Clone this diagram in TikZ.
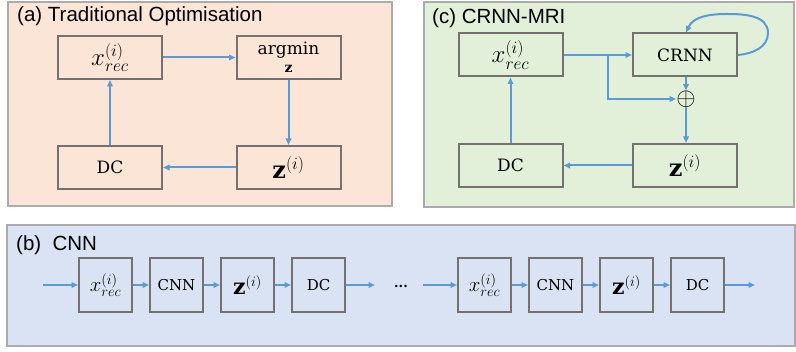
\documentclass[tikz,border=0pt]{standalone}
\usepackage{fontspec}
\setmainfont{DejaVu Serif}
\setsansfont{Liberation Sans}
\usetikzlibrary{arrows.meta}
\definecolor{peach}{HTML}{FBE5D6}
\definecolor{mint}{HTML}{E2F0D9}
\definecolor{lblue}{HTML}{DAE3F3}
\definecolor{pborder}{HTML}{ABABAB}
\definecolor{bborder}{HTML}{767171}
\definecolor{arrblue}{HTML}{5B9BD5}
\begin{document}
\begin{tikzpicture}[x=1pt,y=-1pt,
  panel/.style={draw=pborder,line width=2pt},
  blk/.style={draw=bborder,line width=2pt,minimum width=104pt,minimum height=43pt,inner sep=0pt,font=\fontsize{17}{19}\selectfont},
  sblk/.style={draw=bborder,line width=2pt,minimum width=53pt,minimum height=54pt,inner sep=0pt,font=\fontsize{15}{17}\selectfont},
  mth/.style={font=\fontsize{24}{26}\selectfont},
  smth/.style={font=\fontsize{22}{24}\selectfont},
  arr/.style={draw=arrblue,line width=2pt,-{Triangle[length=6.5pt,width=5.5pt]}},
  ttl/.style={font=\sffamily\fontsize{20.5}{22}\selectfont,anchor=west,inner sep=0pt}]
\useasboundingbox (0,0) rectangle (796,352);
% panels
\path[panel,fill=peach] (8,2) rectangle (392,206);
\path[panel,fill=mint] (424,2) rectangle (794,207);
\path[panel,fill=lblue] (7,225) rectangle (795,346);
\node[ttl] (ta) at (17,16) {(a) Traditional Optimisation};
\node[ttl] (tc) at (432,18) {(c) CRNN-MRI};
\node[ttl] (tb) at (16,245) {(b)\ \ CNN};
% (a)
\node[blk,mth] (ax) at (110,57.5) {$x_{rec}^{(i)}$};
\node[blk,align=center] (aa) at (288.5,57.5) {argmin\\[-1pt]{\fontsize{14}{14}\selectfont$\mathbf{z}$}};
\node[blk] (ad) at (110,167.5) {DC};
\node[blk,mth] (az) at (288.5,167.5) {$\mathbf{z}^{(i)}$};
\draw[arr] (ax) -- (aa);
\draw[arr] (aa) -- (az);
\draw[arr] (az) -- (ad);
\draw[arr] (ad) -- (ax);
% (c)
\node[blk,mth] (cx) at (510.5,55) {$x_{rec}^{(i)}$};
\node[blk] (cr) at (685,55) {CRNN};
\node[blk] (cd) at (510.5,165.5) {DC};
\node[blk,mth] (cz) at (685,165.5) {$\mathbf{z}^{(i)}$};
\node[inner sep=0pt,font=\fontsize{24}{24}\selectfont] (cp) at (686,99) {$\oplus$};
\coordinate (cb) at (608,55);
\coordinate (cb2) at (608,99);
\draw[arr] (cx) -- (cr);
\draw[arr] (cb) -- (cb2) -- (cp);
\draw[arr] (cr.south -| cp) -- (cp);
\draw[arr] (cp) -- (cz.north -| cp);
\draw[arr] (cz) -- (cd);
\draw[arr] (cd) -- (cx);
\coordinate (l1) at (768,33);
\coordinate (l2) at (727,14);
\draw[arr] (cr.east) to[out=5,in=-90] (l1) to[out=90,in=0] (l2) to[out=180,in=65] (cr.north -| cp);
% (b)
\node[sblk,smth] (b1) at (105.5,285) {$x_{rec}^{(i)}$};
\node[sblk] (b2) at (176.5,285) {CNN};
\node[sblk,smth] (b3) at (247.5,285) {$\mathbf{z}^{(i)}$};
\node[sblk] (b4) at (318.5,285) {DC};
\node[sblk,smth] (b5) at (484.5,285) {$x_{rec}^{(i)}$};
\node[sblk] (b6) at (555.5,285) {CNN};
\node[sblk,smth] (b7) at (626.5,285) {$\mathbf{z}^{(i)}$};
\node[sblk] (b8) at (697.5,285) {DC};
\coordinate (bi1) at (43,285);
\coordinate (bo1) at (375,285);
\coordinate (bi2) at (423,285);
\coordinate (bo2) at (755,285);
\node[inner sep=0pt,font=\bfseries\fontsize{13}{13}\selectfont] (dots) at (401,286) {...};
\draw[arr] (bi1) -- (b1);
\draw[arr] (b1) -- (b2);
\draw[arr] (b2) -- (b3);
\draw[arr] (b3) -- (b4);
\draw[arr] (b4) -- (bo1);
\draw[arr] (bi2) -- (b5);
\draw[arr] (b5) -- (b6);
\draw[arr] (b6) -- (b7);
\draw[arr] (b7) -- (b8);
\draw[arr] (b8) -- (bo2);
\end{tikzpicture}
\end{document}
